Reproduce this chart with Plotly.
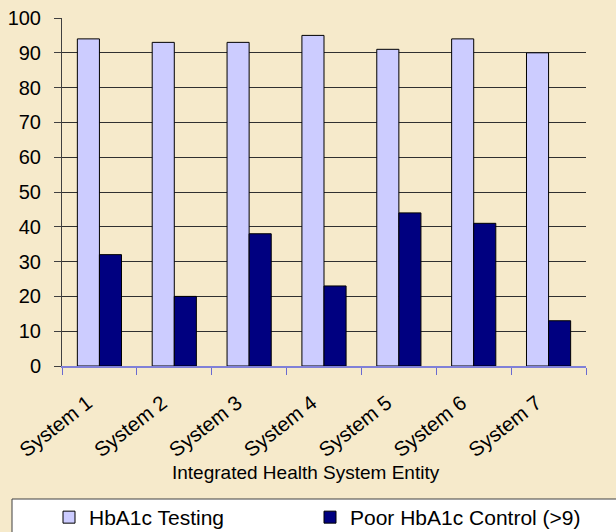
import plotly.graph_objects as go

# Chart data
systems = ["System 1", "System 2", "System 3", "System 4", "System 5", "System 6", "System 7"]
hba1c_testing = [94, 93, 93, 95, 91, 94, 90]
poor_control = [32, 20, 38, 23, 44, 41, 13]
y_ticks = [0, 10, 20, 30, 40, 50, 60, 70, 80, 90, 100]

W, H = 616, 532
L, R, T, B = 62, 30, 18, 166
plot_w = W - L - R
plot_h = H - T - B

def px_x(x):
    return (x - L) / plot_w

def px_y(y):
    return (H - B - y) / plot_h

FONT = "Liberation Sans, Arial, sans-serif"
BG = "#F6EACB"

fig = go.Figure()
fig.add_trace(go.Bar(
    x=systems, y=hba1c_testing, name="HbA1c Testing", legend="legend",
    marker=dict(color="#CCCCFF", line=dict(color="#000000", width=1)),
))
fig.add_trace(go.Bar(
    x=systems, y=poor_control, name="Poor HbA1c Control (>9)", legend="legend2",
    marker=dict(color="#000080", line=dict(color="#000000", width=1)),
))

# Legend frame spanning the bottom of the chart
fig.add_shape(
    type="rect", xref="paper", yref="paper",
    x0=px_x(12), x1=px_x(640), y0=px_y(499), y1=px_y(560),
    line=dict(color="#404040", width=1), fillcolor="#FFFFFF", layer="below",
)

# Axis title
fig.add_annotation(
    text="Integrated Health System Entity", xref="paper", yref="paper",
    x=px_x(306), y=px_y(472), showarrow=False,
    font=dict(family=FONT, size=19, color="#000000"),
    xanchor="center", yanchor="middle",
)

legend_common = dict(
    orientation="h", xref="container", yref="container",
    xanchor="left", yanchor="top",
    bgcolor="rgba(0,0,0,0)", borderwidth=0,
    font=dict(family=FONT, size=21, color="#000000"),
)

fig.update_layout(
    width=W, height=H,
    margin=dict(l=L, r=R, t=T, b=B, pad=0, autoexpand=False),
    paper_bgcolor=BG, plot_bgcolor=BG,
    barmode="group", bargap=0.41, bargroupgap=0,
    font=dict(family=FONT, color="#000000"),
    showlegend=True,
    legend=dict(x=49 / W, y=1 - 497 / H, **legend_common),
    legend2=dict(x=310 / W, y=1 - 497 / H, **legend_common),
    xaxis=dict(
        type="category", tickson="boundaries", automargin=False,
        ticks="outside", ticklen=7, tickcolor="#6A6AD0", tickwidth=1,
        showline=True, linecolor="#8080D8", linewidth=2,
        tickangle=-38, tickfont=dict(family=FONT, size=20.5, color="#000000"),
        showgrid=False, ticklabelstandoff=15, ticklabelshift=-12,
    ),
    yaxis=dict(
        range=[0, 100], tickvals=y_ticks, automargin=False,
        ticks="outside", ticklen=7, tickcolor="#404040", tickwidth=1,
        showline=True, linecolor="#404040", linewidth=1,
        showgrid=True, gridcolor="#303030", gridwidth=1,
        tickfont=dict(family=FONT, size=20, color="#000000"),
        zeroline=False, ticklabelstandoff=9,
    ),
)

fig.write_html("out.html")
